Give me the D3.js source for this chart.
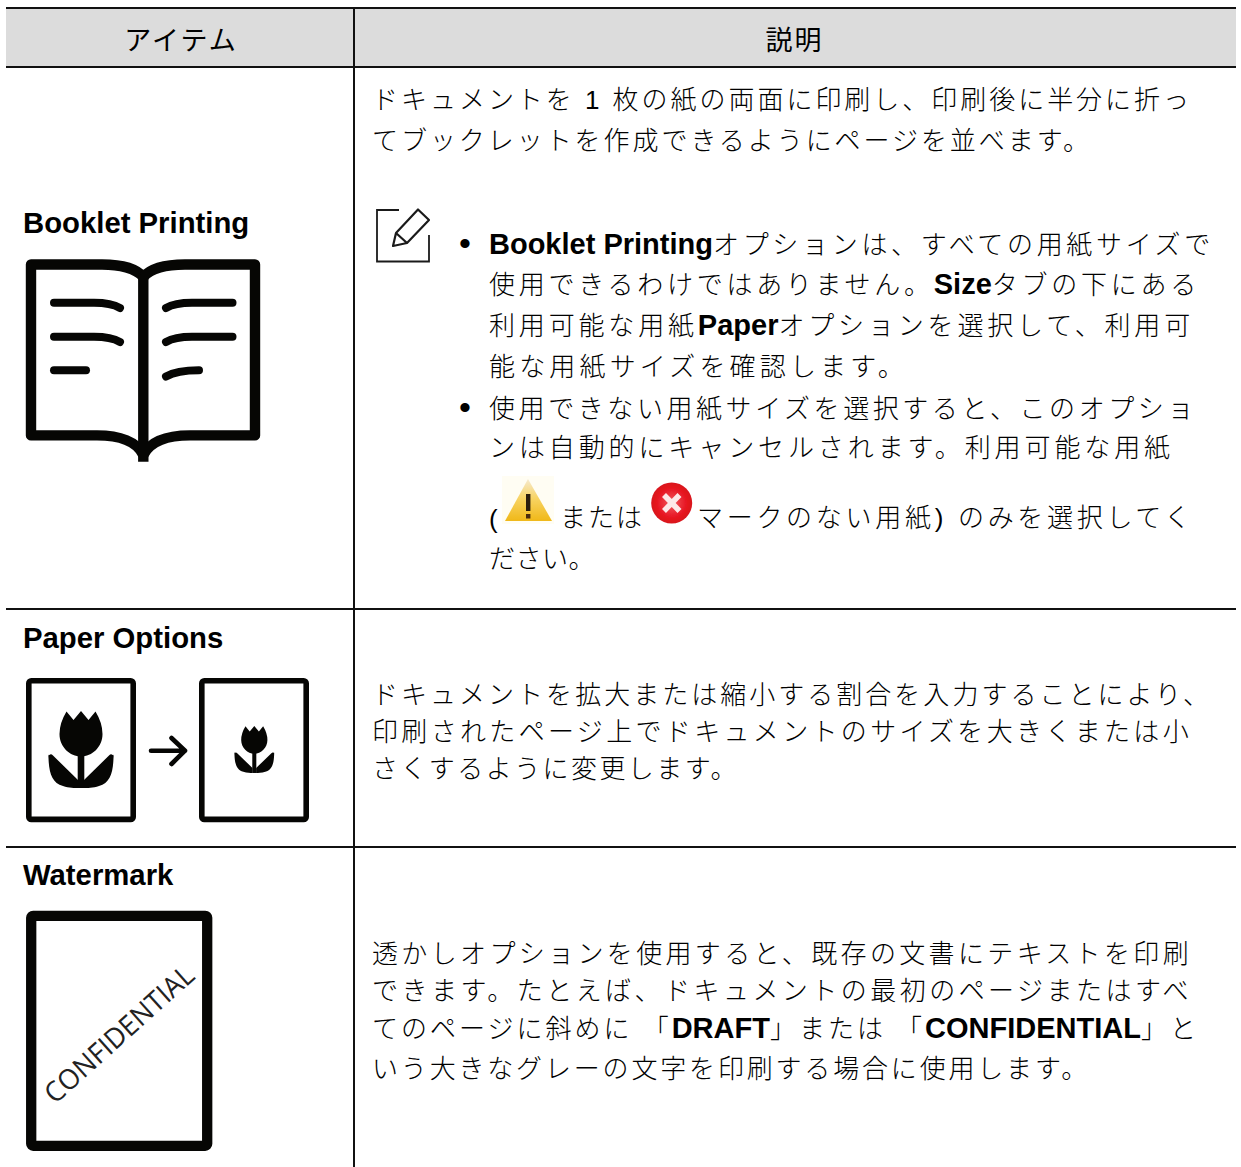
<!DOCTYPE html>
<html>
<head>
<meta charset="utf-8">
<script src="https://cdn.jsdelivr.net/npm/d3@7"></script>
<style>
html, body { margin: 0; padding: 0; background: #fff; }
svg { display: block; }
text { fill: #000; font-family: "Liberation Sans", "Noto Sans CJK JP", sans-serif; }
.body-line { font-size: 26px; font-weight: 300; }
.body-line .bold { font-weight: 700; font-size: 29px; fill: #000; }
.item-label { font-size: 29.3px; font-weight: 700; fill: #000; }
.head { font-size: 27px; font-weight: 400; }
</style>
</head>
<body>
<svg id="chart" width="1241" height="1167"></svg>
<script>
// table content, ** marks bold runs
var headers = ['アイテム', '説明'];
var itemLabels = ['Booklet Printing', 'Paper Options', 'Watermark'];
var bookletLines = [
    'ドキュメントを 1 枚の紙の両面に印刷し、印刷後に半分に折っ',
    'てブックレットを作成できるようにページを並べます。'
];
var noteLines = [
    '**Booklet Printing**オプションは、すべての用紙サイズで',
    '使用できるわけではありません。**Size**タブの下にある',
    '利用可能な用紙**Paper**オプションを選択して、利用可',
    '能な用紙サイズを確認します。',
    '使用できない用紙サイズを選択すると、このオプショ',
    'ンは自動的にキャンセルされます。利用可能な用紙',
    '(',
    'または',
    'マークのない用紙) のみを選択してく',
    'ださい。'
];
var paperLines = [
    'ドキュメントを拡大または縮小する割合を入力することにより、',
    '印刷されたページ上でドキュメントのサイズを大きくまたは小',
    'さくするように変更します。'
];
var watermarkLines = [
    '透かしオプションを使用すると、既存の文書にテキストを印刷',
    'できます。たとえば、ドキュメントの最初のページまたはすべ',
    'てのページに斜めに 「**DRAFT**」または 「**CONFIDENTIAL**」と',
    'いう大きなグレーの文字を印刷する場合に使用します。'
];
var bullets = ['•', '•'];
var stampWord = 'CONFIDENTIAL';

var config = {
    rowLines: [67, 609, 847],
    bookletFrames: [[372, 109, 1192], [372, 150, 1092]],
    noteFrames: [
        [489, 254, 1214], [489, 294, 1200], [489, 335, 1194], [489, 376, 908],
        [489, 418, 1197], [489, 457, 1174], [489, 528, 497], [560, 527, 644],
        [697, 527, 1194], [489, 568, 595]
    ],
    paperFrames: [[372, 704, 1212], [372, 741, 1192], [372, 778, 739]],
    watermarkFrames: [[372, 963, 1192], [372, 1000, 1192], [372, 1038, 1199], [372, 1078, 1090]]
};

var svg = d3.select('#chart');
var defs = svg.append('defs');

function drawTable() {
    svg.append('rect')
        .attr('x', 6).attr('y', 8).attr('width', 1230).attr('height', 59)
        .attr('fill', '#dcdcdc');

    svg.selectAll('.top-rule')
        .data([8].concat(config.rowLines))
        .join('line')
        .attr('x1', 6).attr('x2', 1236)
        .attr('y1', function(d) { return d; })
        .attr('y2', function(d) { return d; })
        .attr('stroke', '#111')
        .attr('stroke-width', 2);

    svg.append('line')
        .attr('x1', 354).attr('x2', 354).attr('y1', 8).attr('y2', 1167)
        .attr('stroke', '#111')
        .attr('stroke-width', 2);

    svg.selectAll('.head')
        .data(headers)
        .join('text')
        .classed('head', true)
        .attr('x', function(d, i) { return i === 0 ? 181 : 794.5; })
        .attr('y', 50)
        .attr('text-anchor', 'middle')
        .style('letter-spacing', '2px')
        .text(function(d) { return d; });

    svg.selectAll('.item-label')
        .data(itemLabels)
        .join('text')
        .classed('item-label', true)
        .attr('x', 23)
        .attr('y', function(d, i) { return [233, 648, 885][i]; })
        .text(function(d) { return d; });
}

// draws lines of text, spreading the regular glyphs to reach the right edge
function drawLines(lines, frames) {
    svg.append('g')
        .selectAll('text')
        .data(lines)
        .join('text')
        .classed('body-line', true)
        .attr('x', function(d, i) { return frames[i][0]; })
        .attr('y', function(d, i) { return frames[i][1]; })
        .each(function(d, i) {
            var t = d3.select(this);
            var runs = d.split('**');
            runs.forEach(function(run, k) {
                if(run === '') return;
                t.append('tspan').classed('bold', k % 2 === 1).text(run);
            });
            var free = frames[i][2] - frames[i][0] - this.getComputedTextLength();
            var count = 0;
            runs.forEach(function(run, k) { if(k % 2 === 0) count += run.length; });
            if(count > 1) {
                t.selectAll('tspan:not(.bold)').style('letter-spacing', (free / count) + 'px');
            }
        });
}

function drawBookIcon() {
    var g = svg.append('g').attr('fill', 'none').attr('stroke', '#060604');
    var pages = [
        'M143.3,277 C136,268 119,264.5 102,264.5 H31 V435.4 H97 C120,435.4 137,442 143.3,455',
        'M143.3,277 C151,268 168,264.5 185,264.5 H255 V435.4 H190 C167,435.4 150,442 143.3,455'
    ];
    g.selectAll('.page')
        .data(pages)
        .join('path')
        .attr('d', function(d) { return d; })
        .attr('stroke-width', 10.4)
        .attr('stroke-linejoin', 'round');
    g.append('line')
        .attr('x1', 143.3).attr('x2', 143.3).attr('y1', 275).attr('y2', 461.7)
        .attr('stroke-width', 10.4);
    var scribbles = [
        'M54,302.8 H94 C106,302.8 114,304.5 120,308',
        'M54,336.8 H94 C106,336.8 114,338.5 120,342',
        'M54,370.3 H86',
        'M166,308 C172,304.5 180,302.8 192,302.8 H232.5',
        'M166,342 C172,338.5 180,336.8 192,336.8 H232.5',
        'M166,376.5 C172,373 180,370.3 199,370.3'
    ];
    g.selectAll('.scribble')
        .data(scribbles)
        .join('path')
        .attr('d', function(d) { return d; })
        .attr('stroke-width', 8)
        .attr('stroke-linecap', 'round');
}

function drawTulip(cx, top, scale) {
    var g = svg.append('g')
        .attr('transform', 'translate(' + cx + ',' + top + ') scale(' + scale + ')')
        .attr('fill', '#060604');
    g.append('path')
        .attr('d', 'M-14.5,0.5 L-7.5,9 L0,0 L7.5,9 L14.5,0.5 Q21.5,12 21.5,23 C21.5,36 11,45.5 0,45.5 C-11,45.5 -21.5,36 -21.5,23 Q-21.5,12 -14.5,0.5Z');
    g.append('rect')
        .attr('x', -3.3).attr('y', 44).attr('width', 6.6).attr('height', 33);
    g.append('path')
        .attr('d', 'M-31.5,44 Q-33,42.5 -32.5,47 C-32,62 -29,72 -18,75 C-12,77 -6,77 -3,77 L-3,69 L-28,44.5 Q-30,42.5 -31.5,44Z M31.5,44 Q33,42.5 32.5,47 C32,62 29,72 18,75 C12,77 6,77 3,77 L3,69 L28,44.5 Q30,42.5 31.5,44Z');
}

function drawPaperIcons() {
    svg.selectAll('.sheet')
        .data([28.8, 201.8])
        .join('rect')
        .attr('x', function(d) { return d; })
        .attr('y', 680.8).attr('width', 104.4).attr('height', 138.6)
        .attr('rx', 2.5)
        .attr('fill', 'none')
        .attr('stroke', '#060604')
        .attr('stroke-width', 5.6);
    drawTulip(81, 711, 1);
    drawTulip(254.3, 726, 0.61);
    svg.append('path')
        .attr('d', 'M151,750.7 H185 M171.5,738 L185,750.7 L171.5,764')
        .attr('fill', 'none')
        .attr('stroke', '#060604')
        .attr('stroke-width', 4.6)
        .attr('stroke-linecap', 'round')
        .attr('stroke-linejoin', 'round');
}

function drawWatermarkIcon() {
    svg.append('rect')
        .attr('x', 31.2).attr('y', 915.8).attr('width', 176).attr('height', 230)
        .attr('rx', 2)
        .attr('fill', 'none')
        .attr('stroke', '#060604')
        .attr('stroke-width', 10.3);
    svg.append('text')
        .attr('transform', 'translate(55,1105) rotate(-42)')
        .attr('textLength', 190)
        .attr('lengthAdjust', 'spacingAndGlyphs')
        .style('font-family', '"Open Sans", sans-serif')
        .style('font-size', '28px')
        .style('font-weight', 400)
        .style('fill', '#222')
        .text(stampWord);
}

function drawNoteIcon() {
    var g = svg.append('g')
        .attr('fill', 'none')
        .attr('stroke', '#1a1a1a');
    g.append('path')
        .attr('d', 'M399,210 H377 V261.5 H429 V235')
        .attr('stroke-width', 1.8);
    g.append('path')
        .attr('d', 'M393,246 L396,233 L418,209.5 L429,220 L407,243 Z M396,233 L407,243')
        .attr('stroke-width', 2.2)
        .attr('stroke-linejoin', 'round');
    svg.selectAll('.bullet')
        .data(bullets)
        .join('text')
        .attr('x', 459)
        .attr('y', function(d, i) { return [255, 419][i]; })
        .style('font-size', '34px')
        .text(function(d) { return d; });
}

function drawStatusIcons() {
    defs.append('filter')
        .attr('id', 'soft')
        .append('feGaussianBlur')
        .attr('stdDeviation', 0.6);

    var warn = defs.append('linearGradient')
        .attr('id', 'warn').attr('x1', 0).attr('x2', 0).attr('y1', 0).attr('y2', 1);
    warn.append('stop').attr('offset', 0).attr('stop-color', '#f6ead0');
    warn.append('stop').attr('offset', 0.45).attr('stop-color', '#f8d465');
    warn.append('stop').attr('offset', 1).attr('stop-color', '#f0b818');
    var wg = svg.append('g').attr('filter', 'url(#soft)');
    wg.append('rect')
        .attr('x', 502).attr('y', 476).attr('width', 52).attr('height', 48)
        .attr('fill', '#fffdf3');
    wg.append('path')
        .attr('d', 'M528,479 L552,521 H505 Z')
        .attr('fill', 'url(#warn)');
    wg.append('rect')
        .attr('x', 526).attr('y', 494).attr('width', 4.4).attr('height', 17)
        .attr('fill', '#2a1a08');
    wg.append('rect')
        .attr('x', 526).attr('y', 514).attr('width', 4.4).attr('height', 4.5)
        .attr('fill', '#4a2a08');

    var red = defs.append('radialGradient').attr('id', 'red');
    red.append('stop').attr('offset', 0).attr('stop-color', '#f25a60');
    red.append('stop').attr('offset', 0.75).attr('stop-color', '#e6121f');
    red.append('stop').attr('offset', 1).attr('stop-color', '#d8141f');
    var rg = svg.append('g').attr('filter', 'url(#soft)');
    rg.append('circle')
        .attr('cx', 671.7).attr('cy', 503).attr('r', 20.5)
        .attr('fill', 'url(#red)');
    rg.append('path')
        .attr('d', 'M664,495 L679.5,511 M679.5,495 L664,511')
        .attr('stroke', '#fde8e8')
        .attr('stroke-width', 5.5);
}

function update() {
    drawTable();
    drawLines(bookletLines, config.bookletFrames);
    drawLines(noteLines, config.noteFrames);
    drawLines(paperLines, config.paperFrames);
    drawLines(watermarkLines, config.watermarkFrames);
    drawBookIcon();
    drawPaperIcons();
    drawWatermarkIcon();
    drawNoteIcon();
    drawStatusIcons();
}

update();
</script>
</body>
</html>
